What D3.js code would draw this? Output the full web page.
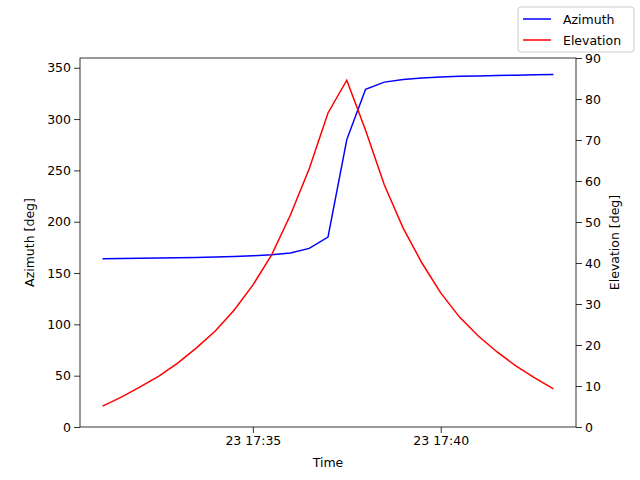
<!DOCTYPE html>
<html><head><meta charset="utf-8">
<script src="https://cdn.jsdelivr.net/npm/d3@7"></script>
<style>body{margin:0;background:#fff}text{font-family:"DejaVu Sans",sans-serif}</style>
</head><body><svg id="c" width="640" height="480"></svg>
<script>
const startTime = "2000-01-23T17:31:00";
const stepSeconds = 30;
const azimuth = [164,164.2,164.4,164.6,164.9,165.2,165.6,166.1,166.8,167.8,169.5,174,185,280,329,336,338.5,340,341,341.6,342,342.4,342.8,343.1,343.4];
const elevation = [5.1,7.3,9.8,12.4,15.6,19.3,23.4,28.5,34.6,42,51.7,63,76.6,84.6,72.4,59,48.5,40,32.7,26.8,22.2,18.3,14.9,12,9.3];
const azTicks = [0,50,100,150,200,250,300,350];
const elTicks = [0,10,20,30,40,50,60,70,80,90];
const t0 = new Date(startTime);
const times = azimuth.map((d,i)=>new Date(t0.getTime()+i*stepSeconds*1000));
const xTicks = [new Date("2000-01-23T17:35:00"), new Date("2000-01-23T17:40:00")];

const L=80,R=576,T=58,B=427,FS=12.5;
const svg=d3.select("#c");
const span=times[times.length-1]-times[0];
const x=d3.scaleTime().domain([new Date(+times[0]-span*0.05), new Date(+times[times.length-1]+span*0.05)]).range([L,R]);
const yA=d3.scaleLinear().domain([0,359.5]).range([B,T]);
const yE=d3.scaleLinear().domain([0,90]).range([B,T]);
const fmt=d3.timeFormat("%d %H:%M");
function style(g){g.selectAll("text").attr("font-size",FS).attr("fill","#000");g.selectAll("line").attr("stroke-width",0.8);}
svg.append("g").attr("transform",`translate(0,${B})`).call(d3.axisBottom(x).tickValues(xTicks).tickFormat(fmt).tickSizeOuter(0)).call(style);
svg.append("g").attr("transform",`translate(${L},0)`).call(d3.axisLeft(yA).tickValues(azTicks).tickSizeOuter(0)).call(style);
svg.append("g").attr("transform",`translate(${R},0)`).call(d3.axisRight(yE).tickValues(elTicks).tickSizeOuter(0)).call(style);
svg.selectAll(".domain").remove();
svg.append("rect").attr("x",L).attr("y",T).attr("width",R-L).attr("height",B-T).attr("fill","none").attr("stroke","#000").attr("stroke-width",0.8);
svg.append("path").datum(azimuth).attr("fill","none").attr("stroke","blue").attr("stroke-width",1.5)
 .attr("d",d3.line().x((d,i)=>x(times[i])).y(d=>yA(d)));
svg.append("path").datum(elevation).attr("fill","none").attr("stroke","red").attr("stroke-width",1.5)
 .attr("d",d3.line().x((d,i)=>x(times[i])).y(d=>yE(d)));
svg.append("text").attr("x",(L+R)/2).attr("y",467).attr("text-anchor","middle").attr("font-size",FS).text("Time");
svg.append("text").attr("transform",`translate(34,${(T+B)/2}) rotate(-90)`).attr("text-anchor","middle").attr("font-size",FS).text("Azimuth [deg]");
svg.append("text").attr("transform",`translate(619,${(T+B)/2}) rotate(-90)`).attr("text-anchor","middle").attr("font-size",FS).text("Elevation [deg]");
const lg=svg.append("g");
lg.append("rect").attr("x",518).attr("y",7).attr("width",116).attr("height",45).attr("rx",3).attr("fill","#fff").attr("stroke","#ccc");
[["Azimuth","blue"],["Elevation","red"]].forEach(([n,c],i)=>{
 const yy=19+i*21;
 lg.append("line").attr("x1",523).attr("x2",551).attr("y1",yy).attr("y2",yy).attr("stroke",c).attr("stroke-width",1.5);
 lg.append("text").attr("x",563).attr("y",yy+4.5).attr("font-size",FS).text(n);
});
</script></body></html>
